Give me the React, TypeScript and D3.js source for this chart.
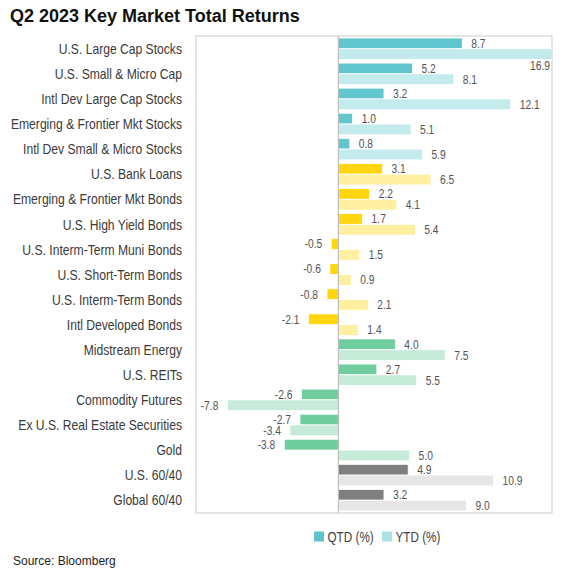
import * as React from "react"
import * as d3 from "d3"

const categories: string[] = [
    "U.S. Large Cap Stocks",
    "U.S. Small & Micro Cap",
    "Intl Dev Large Cap Stocks",
    "Emerging & Frontier Mkt Stocks",
    "Intl Dev Small & Micro Stocks",
    "U.S. Bank Loans",
    "Emerging & Frontier Mkt Bonds",
    "U.S. High Yield Bonds",
    "U.S. Interm-Term Muni Bonds",
    "U.S. Short-Term Bonds",
    "U.S. Interm-Term Bonds",
    "Intl Developed Bonds",
    "Midstream Energy",
    "U.S. REITs",
    "Commodity Futures",
    "Ex U.S. Real Estate Securities",
    "Gold",
    "U.S. 60/40",
    "Global 60/40",
]

const qtd: number[] = [8.7, 5.2, 3.2, 1.0, 0.8, 3.1, 2.2, 1.7, -0.5, -0.6, -0.8, -2.1, 4.0, 2.7, -2.6, -2.7, -3.8, 4.9, 3.2]
const ytd: number[] = [16.9, 8.1, 12.1, 5.1, 5.9, 6.5, 4.1, 5.4, 1.5, 0.9, 2.1, 1.4, 7.5, 5.5, -7.8, -3.4, 5.0, 10.9, 9.0]

// asset class group of each row
const groups: string[] = [
    "equity", "equity", "equity", "equity", "equity",
    "bond", "bond", "bond", "bond", "bond", "bond", "bond",
    "real", "real", "real", "real", "real",
    "blend", "blend",
]

const seriesNames: string[] = ["QTD (%)", "YTD (%)"]
const xDomain: [number, number] = [-10, 15]

const palette: { [k: string]: [string, string] } = {
    equity: ["#62C6CE", "#C3EAEC"],
    bond: ["#FFD60F", "#FFEFA0"],
    real: ["#6FCD9E", "#C6EBD8"],
    blend: ["#7F7F7F", "#E6E6E6"],
}
const legendColors = ["#5FC4CC", "#A9E1E4"]

const W = 569
const H = 578
const plot = { left: 196, right: 552, top: 36, bottom: 513 }
const sans = "'Liberation Sans', Arial, sans-serif"
const squeeze = 0.82 // no Arial Narrow here, so squash Liberation Sans to the same width

// text in a condensed look: placed by translate, squashed horizontally
const narrowText = (sel: any, x: number, y: number, size: number, anchor: string, fill: string, txt: string): void => {
    sel.append("text")
        .attr("transform", "translate(" + x + "," + y + ") scale(" + squeeze + ",1)")
        .attr("dy", "0.35em")
        .attr("text-anchor", anchor)
        .attr("font-family", sans)
        .attr("font-size", size)
        .attr("fill", fill)
        .text(txt)
}

class App extends React.Component<{}, {}> {
    svgEl: SVGSVGElement | null = null

    componentDidMount(): void {
        this.drawChart()
    }

    drawChart = (): void => {
        const svg = d3.select(this.svgEl)
        svg.selectAll("*").remove()

        const x = d3.scaleLinear().domain(xDomain).range([plot.left, plot.right])
        const y = d3.scaleBand<string>()
            .domain(categories)
            .range([plot.top, plot.bottom])
            .paddingInner(0.14)
            .paddingOuter(0.08)
        const ySub = d3.scaleBand<number>().domain([0, 1]).range([0, y.bandwidth()])

        // title
        svg.append("text")
            .attr("x", 10)
            .attr("y", 22)
            .attr("font-family", sans)
            .attr("font-weight", "bold")
            .attr("font-size", 18)
            .attr("fill", "#111")
            .text("Q2 2023 Key Market Total Returns")

        // plot frame
        svg.append("rect")
            .attr("x", plot.left)
            .attr("y", plot.top)
            .attr("width", plot.right - plot.left)
            .attr("height", plot.bottom - plot.top)
            .attr("fill", "none")
            .attr("stroke", "#D4D4D4")
            .attr("stroke-width", 1.2)

        svg.append("clipPath").attr("id", "plotclip")
            .append("rect")
            .attr("x", plot.left)
            .attr("y", plot.top)
            .attr("width", plot.right - plot.left)
            .attr("height", plot.bottom - plot.top)

        // category labels
        const catG = svg.append("g")
        categories.forEach((c) => {
            narrowText(catG, 182, (y(c) as number) + y.bandwidth() / 2, 14.8, "end", "#3A3A3A", c)
        })

        const rows = categories.map((c, i) => ({ c, i, vals: [qtd[i], ytd[i]], group: groups[i] }))
        const bars = rows.flatMap((r) => r.vals.map((v, s) => ({ ...r, v, s })))

        // bars
        svg.append("g")
            .attr("clip-path", "url(#plotclip)")
            .selectAll("rect")
            .data(bars)
            .enter().append("rect")
            .attr("x", (d: any) => x(Math.min(0, d.v)))
            .attr("y", (d: any) => (y(d.c) as number) + (ySub(d.s) as number))
            .attr("width", (d: any) => Math.abs(x(d.v) - x(0)))
            .attr("height", ySub.bandwidth())
            .attr("fill", (d: any) => palette[d.group][d.s])
            .attr("stroke", "#fff")
            .attr("stroke-width", 0.8)

        // zero line
        svg.append("line")
            .attr("x1", x(0)).attr("x2", x(0))
            .attr("y1", plot.top).attr("y2", plot.bottom)
            .attr("stroke", "#BFBFBF")
            .attr("stroke-width", 1.2)

        // value labels
        const valG = svg.append("g")
        bars.forEach((d: any) => {
            const yc = (y(d.c) as number) + (ySub(d.s) as number) + ySub.bandwidth() / 2
            const txt = d.v.toFixed(1)
            if (d.v > xDomain[1]) {
                // clipped bar: label sits under it at the frame edge
                narrowText(valG, plot.right - 2, yc + ySub.bandwidth() + 1, 12.5, "end", "#555", txt)
            } else if (d.v >= 0) {
                narrowText(valG, x(d.v) + 9, yc, 12.5, "start", "#555", txt)
            } else {
                narrowText(valG, x(d.v) - 9, yc, 12.5, "end", "#555", txt)
            }
        })

        // legend
        const legend = svg.append("g")
        const legendX = [314, 382]
        seriesNames.forEach((name, i) => {
            legend.append("rect")
                .attr("x", legendX[i])
                .attr("y", 531.5)
                .attr("width", 10)
                .attr("height", 10)
                .attr("fill", legendColors[i])
            narrowText(legend, legendX[i] + 13.5, 537, 14.3, "start", "#404040", name)
        })

        // source
        svg.append("text")
            .attr("x", 13)
            .attr("y", 565)
            .attr("font-family", sans)
            .attr("font-size", 12)
            .attr("fill", "#222")
            .text("Source: Bloomberg")
    }

    render(): JSX.Element {
        return (
            <svg
                ref={(el) => { this.svgEl = el }}
                width={W}
                height={H}
                style={{ position: "absolute", left: 0, top: 0, background: "#fff" }}
            />
        )
    }
}

export default App
